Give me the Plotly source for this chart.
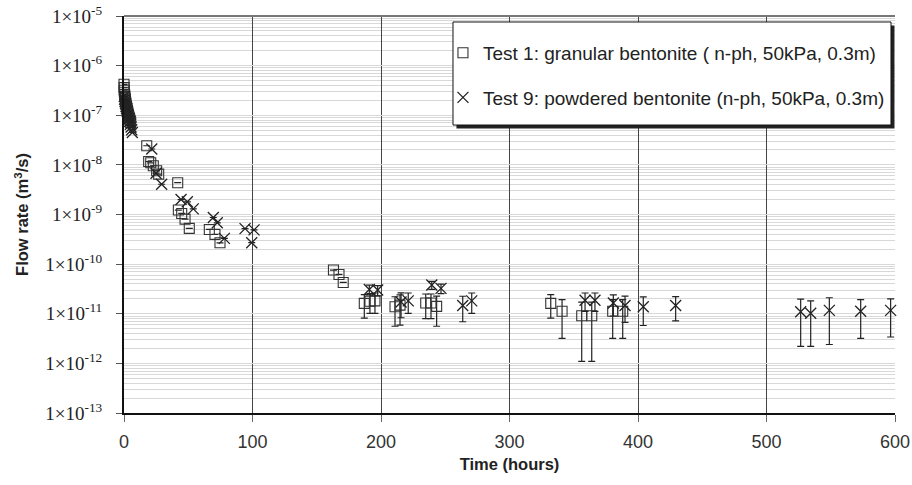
import plotly.graph_objects as go

# ---------------- data ----------------
# Test 1: granular bentonite (open squares)
t1_hours = [0.0, 0.1, 0.2, 0.3, 0.5, 0.7, 0.9, 1.1, 1.3, 1.5, 1.8, 2.1, 2.4, 2.7, 3.0, 3.3, 3.6, 4.0, 4.4, 4.8, 5.2,
            17.7, 19.2, 20.8, 22.8, 25.4, 27.0, 41.8, 42.3, 44.9, 47.5, 50.8, 66.4, 70.8, 74.7,
            163.0, 167.3, 170.6,
            187.0, 191.4, 195.3, 210.9, 214.8, 234.8, 238.9, 243.3,
            332.1, 340.9, 356.2, 364.0, 380.3, 388.1]
t1_flow = [4.2e-7, 3.6e-7, 3.2e-7, 2.9e-7, 2.6e-7, 2.4e-7, 2.2e-7, 2.0e-7, 1.85e-7, 1.7e-7, 1.55e-7, 1.45e-7, 1.35e-7,
           1.25e-7, 1.15e-7, 1.05e-7, 9.8e-8, 9.0e-8, 8.4e-8, 7.8e-8, 7.2e-8,
           2.43e-8, 1.17e-8, 1.10e-8, 9.6e-9, 7.6e-9, 6.5e-9, 4.37e-9, 1.23e-9, 1.05e-9, 8.07e-10, 5.25e-10,
           5.0e-10, 3.97e-10, 2.69e-10,
           7.6e-11, 6.2e-11, 4.27e-11,
           1.62e-11, 1.78e-11, 1.82e-11, 1.38e-11, 1.49e-11, 1.65e-11, 1.65e-11, 1.41e-11,
           1.62e-11, 1.12e-11, 9.1e-12, 9.1e-12, 1.12e-11, 1.12e-11]
t1_err = [0] * 21 + [0] * 14 + [0, 0, 0] + \
         [0.8e-11, 0.76e-11, 0.8e-11, 0.82e-11, 0.9e-11, 0.85e-11, 0.85e-11, 0.85e-11,
          0.8e-11, 0.8e-11, 0.8e-11, 0.8e-11, 0.8e-11, 0.8e-11]

# Test 9: powdered bentonite (crosses)
t9_hours = [0.2, 0.5, 0.8, 1.2, 1.6, 2.0, 2.5, 3.0, 3.5, 4.0, 4.5, 5.0, 5.5, 6.0, 6.5,
            21.6, 24.9, 29.3, 44.4, 49.3, 53.9, 69.5, 72.6, 78.1, 94.2, 101.2, 99.4,
            190.9, 197.4, 215.6, 221.2, 239.5, 246.7, 263.6, 270.6,
            358.8, 366.5, 380.8, 389.9, 404.1, 429.3,
            526.6, 534.4, 548.9, 573.3, 596.6]
t9_flow = [2.4e-7, 2.1e-7, 1.9e-7, 1.7e-7, 1.5e-7, 1.35e-7, 1.2e-7, 1.05e-7, 9.5e-8, 8.5e-8, 7.5e-8, 6.6e-8,
           5.8e-8, 5.1e-8, 4.5e-8,
           2.09e-8, 6.8e-9, 4.07e-9, 2.0e-9, 1.8e-9, 1.3e-9, 8.7e-10, 6.8e-10, 3.3e-10, 5.2e-10, 4.9e-10, 2.7e-10,
           3.09e-11, 3.0e-11, 1.73e-11, 1.82e-11, 3.8e-11, 3.24e-11, 1.47e-11, 1.82e-11,
           1.87e-11, 1.87e-11, 1.65e-11, 1.47e-11, 1.38e-11, 1.47e-11,
           1.1e-11, 1.02e-11, 1.17e-11, 1.12e-11, 1.17e-11]
t9_err = [0] * 15 + [0] * 12 + \
         [0.7e-11, 0.7e-11, 0.9e-11, 0.8e-11, 0.7e-11, 0.7e-11, 0.78e-11, 0.8e-11,
          0.75e-11, 0.75e-11, 0.75e-11, 0.8e-11, 0.8e-11, 0.75e-11,
          0.88e-11, 0.8e-11, 0.93e-11, 0.8e-11, 0.83e-11]

# ---------------- axis ticks ----------------
x_ticks = [0, 100, 200, 300, 400, 500, 600]
y_decades = [1e-13, 1e-12, 1e-11, 1e-10, 1e-9, 1e-8, 1e-7, 1e-6, 1e-5]
y_labels = ["1×10<sup>-13</sup>", "1×10<sup>-12</sup>", "1×10<sup>-11</sup>", "1×10<sup>-10</sup>",
            "1×10<sup>-9</sup>", "1×10<sup>-8</sup>", "1×10<sup>-7</sup>", "1×10<sup>-6</sup>",
            "1×10<sup>-5</sup>"]
y_minor = [m * d for d in y_decades[:-1] for m in range(2, 10)]

series_names = ["Test 1: granular bentonite ( n-ph, 50kPa, 0.3m)",
                "Test 9: powdered bentonite (n-ph, 50kPa, 0.3m)"]

fig = go.Figure()
fig.add_trace(go.Scatter(
    x=t1_hours, y=t1_flow, mode="markers", name=series_names[0], legendgroup="g1",
    marker=dict(symbol="square-open", size=10, color="#333333", line=dict(width=1.1, color="#333333")),
    error_y=dict(type="data", array=t1_err, symmetric=True, color="#222222", thickness=1.2, width=3.5),
    cliponaxis=False,
))
fig.add_trace(go.Scatter(
    x=t9_hours, y=t9_flow, mode="markers", name=series_names[1], legendgroup="g2",
    marker=dict(symbol="x-thin-open", size=11, color="#222222", line=dict(width=1.3, color="#222222")),
    error_y=dict(type="data", array=t9_err, symmetric=True, color="#222222", thickness=1.2, width=3.5),
    cliponaxis=False,
))

# legend frame (box with drop shadow), in paper coordinates
bx0, bx1, by0, by1 = 0.4267, 0.9948, 0.7254, 0.9849
sdx, sdy = 0.0045, 0.009

fig.update_layout(
    width=912, height=485,
    margin=dict(l=124, r=17, t=16, b=72),
    paper_bgcolor="white", plot_bgcolor="white",
    font=dict(family="Liberation Sans, Arial", color="#222222"),
    showlegend=True,
    legend=dict(x=0.4137, y=0.955, xanchor="left", yanchor="top",
                bgcolor="rgba(0,0,0,0)", borderwidth=0,
                font=dict(family="Liberation Sans, Arial", size=19, color="#222222"),
                tracegroupgap=17, traceorder="grouped", itemwidth=30),
    xaxis=dict(range=[0, 600], tickvals=x_ticks, showgrid=True, gridcolor="#444444", gridwidth=1,
               zeroline=False, showline=True, linecolor="#111111", linewidth=1.5,
               ticks="outside", ticklen=7, tickcolor="#666666", tickwidth=1,
               ticklabelstandoff=5, automargin=False,
               tickfont=dict(family="Liberation Sans, Arial", size=18, color="#333333"),
               title=dict(text="<b>Time (hours)</b>", standoff=7,
                          font=dict(family="Liberation Sans, Arial", size=16.5, color="#222222"))),
    yaxis=dict(type="log", range=[-13, -5], tickvals=y_decades, ticktext=y_labels,
               showgrid=True, gridcolor="#d8d8d8", gridwidth=1, zeroline=False,
               minor=dict(tickvals=y_minor, showgrid=True, gridcolor="#d8d8d8", gridwidth=1, ticks=""),
               showline=True, linecolor="#111111", linewidth=2,
               ticks="outside", ticklen=6, tickcolor="#555555",
               ticklabelstandoff=10, automargin=False,
               tickfont=dict(family="Liberation Serif, Times New Roman", size=19, color="#222222"),
               title=dict(text="<b>Flow rate (m<sup>3</sup>/s)</b>", standoff=12,
                          font=dict(family="Liberation Sans, Arial", size=16.5, color="#222222"))),
    shapes=[
        dict(type="line", xref="paper", yref="paper", x0=0, x1=1, y0=1, y1=1,
             line=dict(color="#777777", width=2)),
        dict(type="rect", xref="paper", yref="paper", layer="above",
             x0=bx0 + sdx, x1=bx1 + sdx, y0=by0 - sdy, y1=by1 - sdy,
             fillcolor="#222222", line=dict(width=0)),
        dict(type="rect", xref="paper", yref="paper", layer="above",
             x0=bx0, x1=bx1, y0=by0, y1=by1,
             fillcolor="white", line=dict(color="#111111", width=1)),
    ],
)

fig.write_html("out.html")
